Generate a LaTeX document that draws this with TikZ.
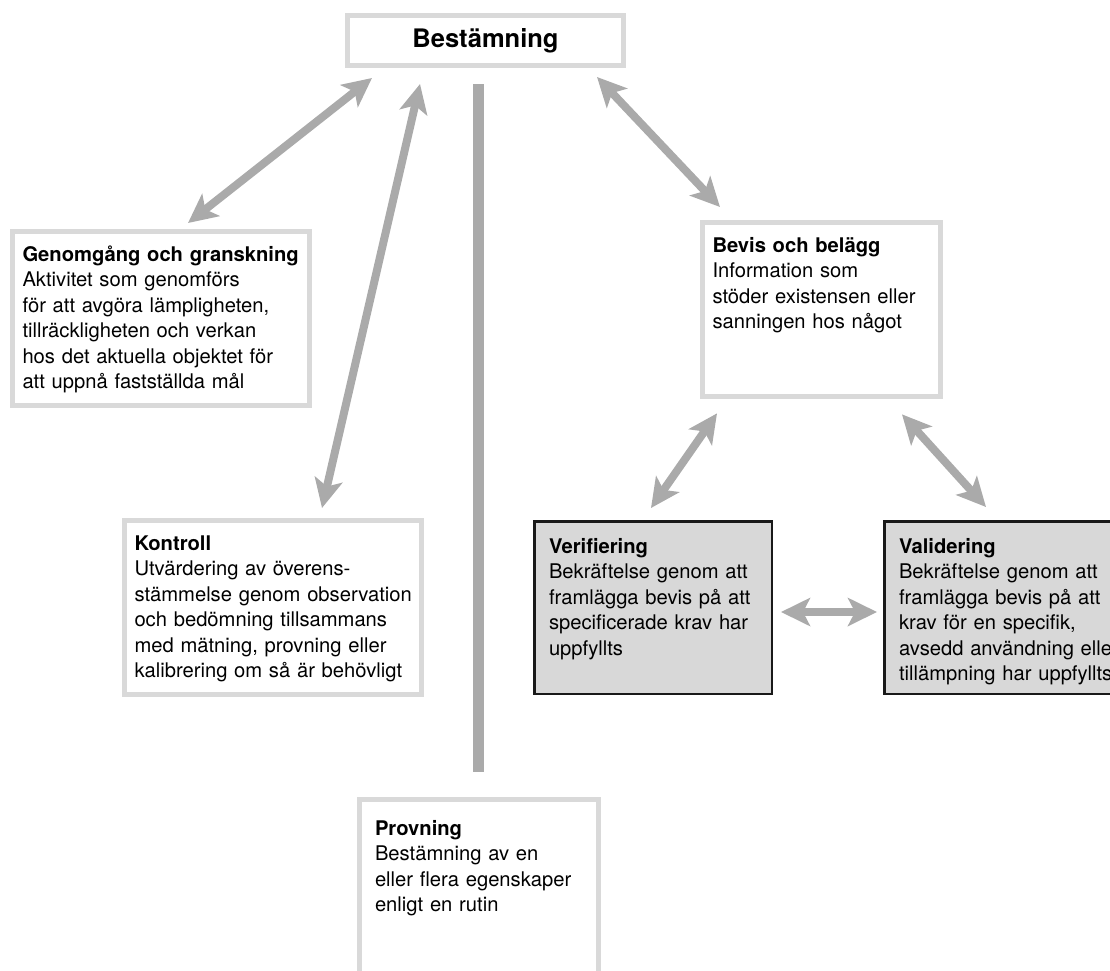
\documentclass[tikz,border=0pt]{standalone}
\usepackage{fontspec}
\setmainfont{TeX Gyre Heros}
\usetikzlibrary{arrows.meta}

\definecolor{boxgray}{RGB}{217,217,217}
\definecolor{fillgray}{RGB}{216,216,216}
\definecolor{arrowgray}{RGB}{170,170,170}

\begin{document}
\begin{tikzpicture}[
x=1pt, y=-1pt,
>={Stealth[length=29pt, width=28pt, inset=7pt]},
block/.style={rectangle, anchor=north west, align=left,
    font=\fontsize{20.2}{25.5}\selectfont},
block-title/.style={rectangle, draw=boxgray, line width=5pt, outer sep=2.5pt,
    inner sep=0pt, minimum width=276pt, minimum height=50pt,
    font=\bfseries\fontsize{25.5}{29}\selectfont},
block-light/.style={block, draw=boxgray, line width=5pt, outer sep=2.5pt,
    inner xsep=10pt, inner ysep=12pt, text depth=132.5pt},
block-dark/.style={block, draw=black!90, fill=fillgray, line width=2.5pt,
    outer sep=1.25pt, inner xsep=14.75pt, inner ysep=14pt, text depth=126.7pt},
line/.style={draw=arrowgray, line width=8pt, <->},
bar/.style={draw=arrowgray, line width=10.5pt}
]

\path [use as bounding box, clip] (0,0) rectangle (1110,970);

\node [block-title] (bestamning) at (485.5,40.5) {Bestämning};

\node [block-light, text width=277pt] (genomgang) at (10,229) {\strut\textbf{Genomgång och granskning}\\
Aktivitet som genomförs\\
för att avgöra lämpligheten,\\
tillräckligheten och verkan\\
hos det aktuella objektet för\\
att uppnå fastställda mål};

\node [block-light, text width=277pt] (kontroll) at (122,518) {\strut\textbf{Kontroll}\\
Utvärdering av överens-\\
stämmelse genom observation\\
och bedömning tillsammans\\
med mätning, provning eller\\
kalibrering om så är behövligt};

\node [block-light, text width=218pt] (bevis) at (700,220) {\strut\textbf{Bevis och belägg}\\
Information som\\
stöder existensen eller\\
sanningen hos något};

\node [block-light, text width=208pt, inner xsep=15.5pt, inner ysep=18pt,
    text depth=220pt] (provning) at (357,797) {\strut\textbf{Provning}\\
Bestämning av en\\
eller flera egenskaper\\
enligt en rutin};

\node [block-dark, text width=208pt] (verifiering) at (533,520) {\strut\textbf{Verifiering}\\
Bekräftelse genom att\\
framlägga bevis på att\\
specificerade krav har\\
uppfyllts};

\node [block-dark, text width=232pt] (validering) at (883,520) {\strut\textbf{Validering}\\
Bekräftelse genom att\\
framlägga bevis på att\\
krav för en specifik,\\
avsedd användning eller\\
tillämpning har uppfyllts};

\path [line] ([shift={(27,10)}]bestamning.south west) -- ([shift={(178,-6)}]genomgang.north west);
\path [line] ([shift={(75,16)}]bestamning.south west) -- ([shift={(200,-10)}]kontroll.north west);
\path [line] ([shift={(-29,9)}]bestamning.south east) -- ([shift={(20,-13)}]bevis.north west);
\path [bar] ([shift={(-7,16)}]bestamning.south) -- ([shift={(121.5,-25)}]provning.north west);

\path [line] ([shift={(17,14)}]bevis.south west) -- ([shift={(118,-12)}]verifiering.north west);
\path [line] ([shift={(-41,15)}]bevis.south east) -- ([shift={(103,-13)}]validering.north west);
\path [line] ([shift={(8,92)}]verifiering.north east) -- ([shift={(-6,92)}]validering.north west);

\end{tikzpicture}
\end{document}
